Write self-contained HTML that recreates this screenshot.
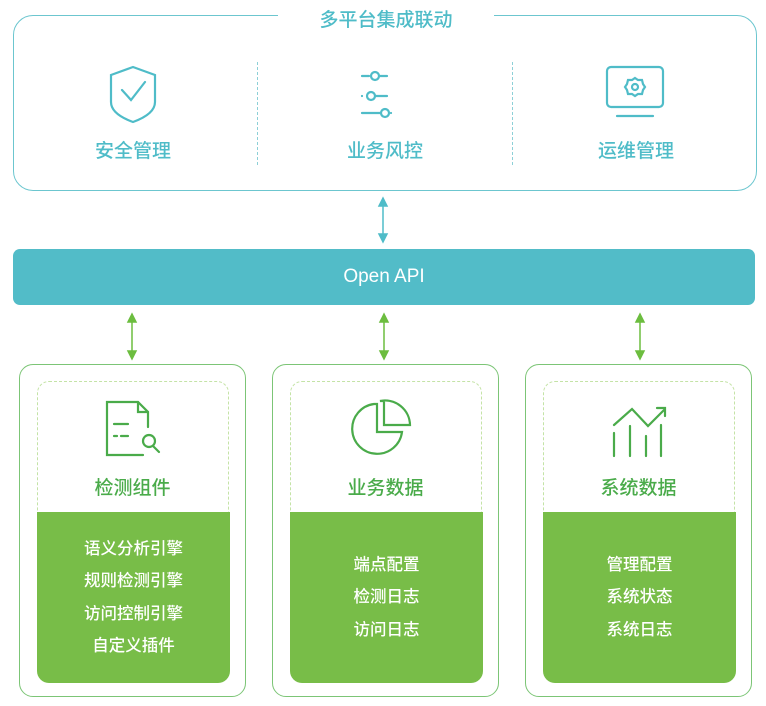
<!DOCTYPE html><html><head><meta charset="utf-8"><style>
body{margin:0;width:766px;height:706px;background:#fff;position:relative;overflow:hidden;font-family:"Liberation Sans","Noto Sans CJK SC",sans-serif;font-weight:500}
.a{position:absolute}
.t{color:#4fbcc8;font-size:19px;text-align:center;width:160px}
.box{position:absolute;border:1.5px solid #7cc576;border-radius:14px;width:225px;height:331px;top:364px}
.in{position:absolute;left:17px;top:16px;width:190px;height:296px;border:1.5px dashed #c4e3a6;border-radius:12px;border-bottom:none}
.gr{position:absolute;left:17px;top:147px;width:193px;height:171px;background:#78bd48;border-radius:0 0 12px 12px;color:#fff;font-size:16.5px;text-align:center;display:flex;flex-direction:column;justify-content:center;line-height:32.5px}
.h{position:absolute;top:108px;width:100%;text-align:center;color:#4aab4a;font-size:19px}
</style></head><body>
<div class="a" style="left:13px;top:15px;width:742px;height:174px;border:1.5px solid #6cc6cf;border-radius:20px"></div>
<div class="a" style="left:278px;top:5px;width:216px;height:22px;background:#fff;color:#4fbcc8;font-size:19px;text-align:center">多平台集成联动</div>
<div class="a" style="left:257px;top:62px;height:103px;border-left:1.5px dashed #8dd0d7"></div>
<div class="a" style="left:512px;top:62px;height:103px;border-left:1.5px dashed #8dd0d7"></div>
<svg class="a" style="left:0;top:0" width="766" height="706">
<g fill="none" stroke="#4fbcc8" stroke-width="2.2" stroke-linecap="round">
<path d="M133 67 L111 75 V102 Q111 114 133 122 Q155 114 155 102 V75 Z"/><path d="M122 90 L131 100 L145 82"/>
<path d="M362 76H369M380 76H387M362 96V96M375 96H387M362 113H380M391 113V113"/><circle cx="375" cy="76" r="4"/><circle cx="371" cy="96" r="4"/><circle cx="385" cy="113" r="4"/>
<rect x="607" y="67" width="56" height="40" rx="4"/><path d="M617 116H653"/><circle cx="635" cy="87" r="3"/><path d="M635 78L638 80L642 80L643 84L645 87L643 90L642 94L638 94L635 96L632 94L628 94L627 90L625 87L627 84L628 80L632 80Z"/>
</g>
<g stroke="#4fbcc8" stroke-width="1.5" fill="#4fbcc8"><path d="M383 202V237"/><path d="M379 206L383 198L387 206Z"/><path d="M379 234L383 242L387 234Z"/></g>
<g stroke="#6cbd3f" stroke-width="1.5" fill="#6cbd3f">
<path d="M132 318V354"/><path d="M128 322L132 314L136 322ZM128 351L132 359L136 351Z"/>
<path d="M384 318V354"/><path d="M380 322L384 314L388 322ZM380 351L384 359L388 351Z"/>
<path d="M640 318V354"/><path d="M636 322L640 314L644 322ZM636 351L640 359L644 351Z"/></g>
<g fill="none" stroke="#4aab4a" stroke-width="2.2" stroke-linecap="round">
<path d="M143 455H107V402H138L148 412V427"/><path d="M138 402V412H148"/><path d="M114 424H128M114 436H117M121 436H128"/><circle cx="149" cy="441" r="6"/><path d="M153 446L159 452"/>
<path d="M374 404A25 25 0 1 0 402 432H377V404Z"/><path d="M380 401A25 25 0 0 1 410 425H384V401Z"/>
<path d="M614 425L632 409L648 426L664 410"/><path d="M657 408H665V416"/><path d="M614 433V456M630 426V456M646 436V456M661 425V456"/>
</g></svg>
<div class="a t" style="left:53px;top:136px">安全管理</div>
<div class="a t" style="left:305px;top:136px">业务风控</div>
<div class="a t" style="left:556px;top:136px">运维管理</div>
<div class="a" style="left:13px;top:249px;width:742px;height:56px;background:#52bcc8;border-radius:7px;color:#fff;font-size:19px;text-align:center;line-height:56px">Open API</div>
<div class="box" style="left:19px"><div class="in"></div><div class="h">检测组件</div><div class="gr"><div>语义分析引擎</div><div>规则检测引擎</div><div>访问控制引擎</div><div>自定义插件</div></div></div>
<div class="box" style="left:272px"><div class="in"></div><div class="h">业务数据</div><div class="gr"><div>端点配置</div><div>检测日志</div><div>访问日志</div></div></div>
<div class="box" style="left:525px"><div class="in"></div><div class="h">系统数据</div><div class="gr"><div>管理配置</div><div>系统状态</div><div>系统日志</div></div></div>
</body></html>
